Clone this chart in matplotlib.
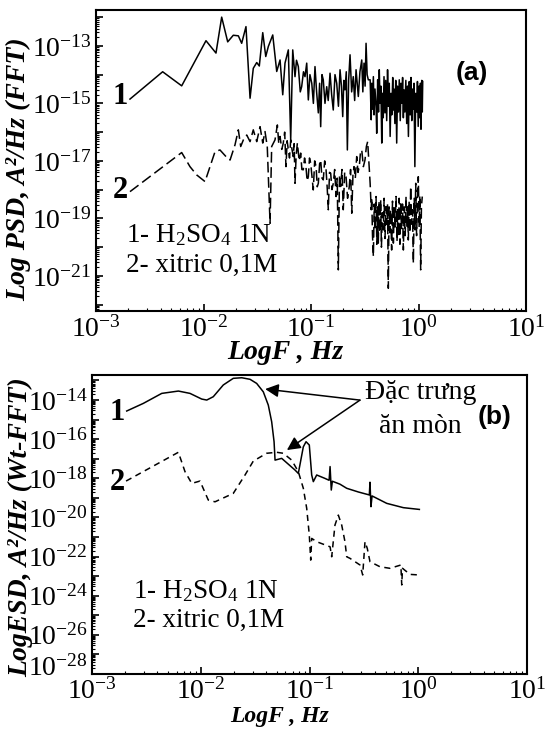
import numpy as np
import matplotlib
matplotlib.use("Agg")
import matplotlib.pyplot as plt
import matplotlib.transforms as mtransforms
from matplotlib.ticker import FixedLocator, FuncFormatter, LogLocator, NullFormatter

plt.rcParams['font.family'] = ['Liberation Serif', 'DejaVu Serif']
plt.rcParams['mathtext.fontset'] = 'custom'
plt.rcParams['mathtext.rm'] = 'Liberation Serif'
plt.rcParams['mathtext.it'] = 'Liberation Serif:italic'
plt.rcParams['mathtext.bf'] = 'Liberation Serif:bold'

# (log10 F [Hz], log10 PSD)
psd_h2so4 = [
    (-2.684, -14.85), (-2.38, -13.9), (-2.203, -14.39), (-1.977, -12.82), (-1.884, -13.25),
    (-1.831, -12.0), (-1.775, -12.86), (-1.723, -12.63), (-1.676, -12.65), (-1.645, -12.91),
    (-1.605, -12.33), (-1.567, -14.82), (-1.537, -13.78), (-1.505, -13.58), (-1.481, -13.7),
    (-1.449, -12.54), (-1.421, -13.37), (-1.397, -13.02), (-1.356, -12.62), (-1.319, -13.89),
    (-1.288, -13.49), (-1.263, -14.7), (-1.242, -13.6), (-1.211, -13.14), (-1.189, -16.27),
    (-1.17, -13.14), (-1.149, -14.07), (-1.135, -13.5), (-1.118, -13.72), (-1.10, -14.6),
    (-1.087, -14.42), (-1.07, -13.9), (-1.056, -14.07), (-1.04, -13.6), (-1.025, -14.88),
    (-1.01, -14.0), (-0.993, -14.3), (-0.978, -15.0), (-0.963, -13.72), (-0.948, -14.6),
    (-0.932, -15.33), (-0.92, -14.3), (-0.91, -15.81), (-0.898, -14.0), (-0.886, -14.18),
    (-0.87, -15.0), (-0.854, -14.42), (-0.84, -14.9), (-0.823, -13.95), (-0.808, -14.7),
    (-0.793, -15.23), (-0.777, -14.0), (-0.761, -14.3), (-0.745, -15.1), (-0.73, -13.83),
    (-0.717, -14.4), (-0.705, -15.46), (-0.695, -14.2), (-0.684, -14.53), (-0.672, -13.9),
    (-0.662, -16.62), (-0.65, -14.2), (-0.637, -13.31), (-0.622, -14.6), (-0.607, -14.07),
    (-0.594, -14.9), (-0.581, -13.83), (-0.57, -14.3), (-0.56, -14.76), (-0.545, -13.9),
    (-0.528, -13.49), (-0.518, -14.6), (-0.507, -13.6), (-0.497, -14.4), (-0.488, -12.91),
    (-0.478, -14.0), (-0.467, -14.18),
    (-0.45, -14.18), (-0.44, -15.57), (-0.435, -14.3), (-0.43, -15.2), (-0.42, -14.07),
    (-0.414, -15.4), (-0.405, -14.5), (-0.395, -15.1), (-0.389, -16.04), (-0.38, -14.18),
    (-0.372, -15.3), (-0.365, -13.83), (-0.358, -15.0), (-0.35, -14.4), (-0.342, -16.38),
    (-0.335, -14.65), (-0.328, -15.5), (-0.321, -14.07), (-0.312, -15.33), (-0.305, -14.2),
    (-0.296, -15.6), (-0.288, -13.83), (-0.28, -15.1), (-0.272, -14.3), (-0.264, -16.15),
    (-0.256, -14.65), (-0.249, -15.4), (-0.24, -14.1), (-0.234, -15.23), (-0.228, -14.5),
    (-0.22, -15.7), (-0.212, -14.2), (-0.203, -16.38), (-0.195, -14.4), (-0.187, -15.3),
    (-0.179, -14.18), (-0.17, -15.6), (-0.163, -14.3), (-0.156, -14.99), (-0.148, -14.1),
    (-0.141, -15.5), (-0.135, -14.53), (-0.127, -15.3), (-0.118, -14.2), (-0.11, -15.7),
    (-0.102, -14.4), (-0.094, -16.15), (-0.086, -14.24), (-0.078, -15.4), (-0.07, -14.1),
    (-0.063, -15.6), (-0.055, -14.5), (-0.048, -15.2), (-0.042, -14.3), (-0.034, -17.2),
    (-0.026, -14.65), (-0.017, -15.3), (-0.01, -14.24), (-0.003, -15.8), (0.005, -14.4),
    (0.012, -15.5), (0.018, -14.3), (0.023, -15.9), (0.03, -14.2), (0.035, -15.3), (0.039, -14.24),
]

psd_xitric = [
    (-2.684, -18.07), (-2.203, -16.71), (-2.126, -17.2), (-2.063, -17.49), (-1.986, -17.72),
    (-1.94, -17.2), (-1.893, -16.68), (-1.847, -16.62), (-1.791, -16.85), (-1.753, -16.97),
    (-1.707, -16.44), (-1.676, -15.92), (-1.654, -16.5), (-1.623, -16.21), (-1.598, -16.1),
    (-1.567, -16.33), (-1.537, -15.92), (-1.505, -16.33), (-1.474, -15.81), (-1.449, -16.38),
    (-1.428, -15.98), (-1.407, -16.5), (-1.381, -19.17), (-1.366, -16.5), (-1.335, -16.27),
    (-1.313, -15.75), (-1.30, -16.4), (-1.288, -16.15), (-1.272, -16.6), (-1.258, -16.38),
    (-1.245, -16.0), (-1.233, -17.2), (-1.222, -16.3), (-1.211, -16.62), (-1.2, -16.9),
    (-1.189, -16.27), (-1.177, -16.6), (-1.165, -16.85), (-1.157, -16.4), (-1.149, -17.78),
    (-1.138, -16.8), (-1.127, -16.38), (-1.11, -17.0), (-1.096, -16.73), (-1.085, -17.3),
    (-1.072, -17.31), (-1.06, -16.9), (-1.047, -17.2), (-1.036, -17.7), (-1.025, -17.55),
    (-1.014, -16.9), (-1.003, -17.08), (-0.99, -17.6), (-0.979, -18.01), (-0.966, -17.0),
    (-0.953, -17.2), (-0.942, -17.9), (-0.932, -17.78), (-0.92, -17.1), (-0.91, -16.97),
    (-0.898, -17.6), (-0.886, -17.66), (-0.873, -17.0), (-0.86, -17.31), (-0.85, -17.9),
    (-0.839, -18.7), (-0.828, -17.4), (-0.817, -17.43), (-0.805, -18.0), (-0.793, -17.78),
    (-0.78, -17.3), (-0.767, -18.24), (-0.756, -17.6), (-0.746, -20.79), (-0.735, -17.5),
    (-0.724, -17.89), (-0.712, -17.3), (-0.7, -18.7), (-0.687, -17.4), (-0.674, -17.55),
    (-0.66, -18.3), (-0.644, -17.89), (-0.632, -17.3), (-0.621, -18.82), (-0.61, -17.5),
    (-0.6, -17.2), (-0.588, -17.6), (-0.575, -16.85), (-0.563, -17.4), (-0.551, -17.2),
    (-0.54, -16.7), (-0.528, -16.62), (-0.513, -17.2), (-0.498, -16.97), (-0.485, -16.5),
    (-0.473, -16.33),
    (-0.45, -17.78), (-0.44, -18.7), (-0.435, -18.3), (-0.428, -19.6), (-0.42, -20.33),
    (-0.412, -18.5), (-0.404, -19.4), (-0.395, -18.24), (-0.388, -19.9), (-0.381, -18.6),
    (-0.374, -19.86), (-0.367, -18.4), (-0.36, -19.5), (-0.352, -18.36), (-0.345, -20.0),
    (-0.337, -18.8), (-0.327, -19.4), (-0.32, -18.3), (-0.312, -19.7), (-0.302, -18.59),
    (-0.295, -19.2), (-0.288, -18.5), (-0.281, -21.43), (-0.274, -18.6), (-0.266, -19.5),
    (-0.259, -18.7), (-0.25, -20.1), (-0.242, -18.4), (-0.234, -19.86), (-0.226, -18.6),
    (-0.218, -19.3), (-0.209, -18.24), (-0.2, -19.8), (-0.194, -18.7), (-0.188, -19.63),
    (-0.18, -18.3), (-0.173, -19.9), (-0.166, -18.47), (-0.158, -19.4), (-0.149, -18.5),
    (-0.141, -20.1), (-0.133, -18.6), (-0.124, -19.6), (-0.116, -18.24), (-0.108, -19.3),
    (-0.101, -18.6), (-0.095, -19.75), (-0.087, -18.4), (-0.08, -19.5), (-0.073, -17.89),
    (-0.065, -19.2), (-0.056, -18.7), (-0.048, -20.56), (-0.04, -18.3), (-0.033, -19.4),
    (-0.026, -17.78), (-0.018, -19.6), (-0.01, -18.4), (-0.002, -17.55), (0.006, -19.3),
    (0.012, -18.2), (0.02, -20.79), (0.027, -18.6), (0.035, -18.24),
]

# (log10 F [Hz], log10 ESD)
esd_h2so4 = [
    (-2.681, -14.56), (-2.528, -14.17), (-2.359, -13.66), (-2.206, -13.54), (-2.099, -13.66),
    (-1.991, -13.95), (-1.945, -14.0), (-1.885, -13.83), (-1.793, -13.23), (-1.701, -12.89),
    (-1.623, -12.86), (-1.547, -12.94), (-1.486, -13.15), (-1.425, -13.58), (-1.379, -14.26),
    (-1.348, -15.11), (-1.326, -16.13), (-1.317, -17.07), (-1.256, -16.98), (-1.133, -17.58),
    (-1.103, -17.75), (-1.057, -16.39), (-1.032, -16.13), (-1.002, -16.3), (-0.98, -17.83),
    (-0.965, -18.17), (-0.934, -17.83), (-0.86, -18.0), (-0.82, -18.1), (-0.811, -17.4),
    (-0.80, -18.6), (-0.79, -18.15), (-0.72, -18.3), (-0.658, -18.51), (-0.55, -18.7),
    (-0.45, -18.85), (-0.444, -18.2), (-0.435, -19.45), (-0.425, -18.9), (-0.29, -19.28),
    (-0.137, -19.5), (0.01, -19.59),
]

esd_xitric = [
    (-2.687, -18.14), (-2.206, -16.67), (-2.145, -17.66), (-2.083, -18.26), (-2.007, -18.14),
    (-1.931, -19.11), (-1.869, -19.2), (-1.701, -18.77), (-1.593, -17.83), (-1.517, -17.12),
    (-1.394, -16.72), (-1.302, -16.67), (-1.241, -16.72), (-1.164, -17.07), (-1.103, -17.66),
    (-1.057, -18.51), (-1.026, -19.53), (-1.002, -20.9), (-0.989, -22.18), (-0.98, -21.07),
    (-0.934, -21.24), (-0.811, -21.5), (-0.796, -22.01), (-0.766, -20.39), (-0.735, -19.88),
    (-0.704, -20.39), (-0.674, -21.24), (-0.658, -22.01), (-0.628, -22.09), (-0.536, -22.43),
    (-0.511, -22.94), (-0.49, -21.24), (-0.469, -21.58), (-0.444, -22.26), (-0.352, -22.52),
    (-0.26, -22.6), (-0.16, -22.43), (-0.152, -23.45), (-0.145, -22.6), (-0.076, -22.91),
    (0.01, -22.94),
]

legend_lines = [r'1- H$_2$SO$_4$ 1N', '2- xitric 0,1M']


def to_lin(pairs):
    a = np.array(pairs)
    return 10 ** a[:, 0], 10 ** a[:, 1]


def style_axis(ax, ymin_exp, ymax_exp, label_exps, xpad):
    ax.set_xscale('log')
    ax.set_yscale('log')
    ax.set_xlim(1e-3, 1e1)
    ax.set_ylim(10.0 ** ymin_exp, 10.0 ** ymax_exp)
    for s in ax.spines.values():
        s.set_linewidth(1.5)
    ax.xaxis.set_major_locator(FixedLocator([1e-3, 1e-2, 1e-1, 1e0, 1e1]))
    ax.xaxis.set_minor_locator(LogLocator(base=10, subs=np.arange(2, 10), numticks=50))
    ax.xaxis.set_minor_formatter(NullFormatter())
    ax.xaxis.set_major_formatter(FuncFormatter(
        lambda v, p: r'$\mathregular{10^{%d}}$' % round(np.log10(v))))
    decades = range(int(np.floor(ymin_exp)), int(np.ceil(ymax_exp)) + 1)
    ax.yaxis.set_major_locator(FixedLocator([10.0 ** k for k in decades]))
    ax.yaxis.set_minor_locator(LogLocator(base=10, subs=np.arange(2, 10), numticks=50))
    ax.yaxis.set_minor_formatter(NullFormatter())
    ax.yaxis.set_major_formatter(FuncFormatter(
        lambda v, p: (r'$\mathregular{10^{%d}}$' % round(np.log10(v)))
        if round(np.log10(v)) in label_exps else ''))
    ax.tick_params(which='both', direction='in', top=False, right=False, labelsize=20)
    ax.tick_params(which='major', length=5, width=1.2, pad=3)
    ax.tick_params(axis='x', which='major', pad=xpad)
    ax.tick_params(which='minor', length=2.5, width=0.8)


fig = plt.figure(figsize=(5.54, 7.31), dpi=100)

# ---- panel (a)
ax1 = fig.add_axes([0.1733, 0.5746, 0.7762, 0.4118])
f, p = to_lin(psd_h2so4)
ax1.plot(f, p, color='k', lw=1.1)
f, p = to_lin(psd_xitric)
ax1.plot(f, p, color='k', lw=1.1, linestyle=(0, (7, 3)))
style_axis(ax1, -22.22, -11.75, [-13, -15, -17, -19, -21], 4)
ax1.set_xlabel('LogF , Hz', fontsize=20, fontweight='bold', style='italic')
ax1.xaxis.set_label_coords(0.44, -0.098)
ax1.xaxis.label.set_va('top')
ax1.set_ylabel('Log PSD, A²/Hz (FFT)', fontsize=20, fontweight='bold', style='italic')
ax1.yaxis.set_label_coords(-0.15, 0.47)
ax1.text(0.056, 0.711, '1', transform=ax1.transAxes, fontsize=22, fontweight='bold',
         ha='center', va='center')
ax1.text(0.056, 0.399, '2', transform=ax1.transAxes, fontsize=22, fontweight='bold',
         ha='center', va='center')
ax1.text(0.07, 0.230, legend_lines[0], transform=ax1.transAxes, fontsize=19.5, va='baseline')
ax1.text(0.07, 0.131, legend_lines[1], transform=ax1.transAxes, fontsize=19.5, va='baseline')
ax1.text(0.874, 0.791, '(a)', transform=ax1.transAxes, fontsize=19, fontweight='bold',
         family='Liberation Sans', ha='center', va='center')

# ---- panel (b)
ax2 = fig.add_axes([0.1661, 0.078, 0.7852, 0.409])
f, p = to_lin(esd_h2so4)
ax2.plot(f, p, color='k', lw=1.1)
f, p = to_lin(esd_xitric)
ax2.plot(f, p, color='k', lw=1.1, linestyle=(0, (4, 3)))
style_axis(ax2, -28, -12.72, [-14, -16, -18, -20, -22, -24, -26, -28], 3)
ax2.set_xlabel('LogF , Hz', fontsize=17, fontweight='bold', style='italic')
ax2.xaxis.set_label_coords(0.432, -0.108)
ax2.xaxis.label.set_va('top')
ax2.set_ylabel('LogESD, A²/Hz (Wt-FFT)', fontsize=20, fontweight='bold', style='italic')
ax2.yaxis.set_label_coords(-0.136, 0.49)
ax2.text(0.057, 0.873, '1', transform=ax2.transAxes, fontsize=22, fontweight='bold',
         ha='center', va='center')
ax2.text(0.057, 0.639, '2', transform=ax2.transAxes, fontsize=22, fontweight='bold',
         ha='center', va='center')
ax2.text(0.094, 0.254, legend_lines[0], transform=ax2.transAxes, fontsize=19.5, va='baseline')
ax2.text(0.094, 0.157, legend_lines[1], transform=ax2.transAxes, fontsize=19.5, va='baseline')
ax2.text(0.926, 0.86, '(b)', transform=ax2.transAxes, fontsize=19, fontweight='bold',
         family='Liberation Sans', ha='center', va='center')
ax2.text(0.756, 0.94, 'Đặc trưng', transform=ax2.transAxes, fontsize=20,
         ha='center', va='center')
ax2.text(0.754, 0.829, 'ăn mòn', transform=ax2.transAxes, fontsize=20,
         ha='center', va='center')
for tip in [(0.398, 0.953), (0.448, 0.749)]:
    ax2.annotate('', xy=tip, xycoords='axes fraction', xytext=(0.616, 0.916),
                 textcoords='axes fraction',
                 arrowprops=dict(arrowstyle='-|>', mutation_scale=20, color='k', lw=1.1,
                                 shrinkA=0, shrinkB=0))

# nudge the lowest y label up a little so it clears the 10^-3 x label at the corner
fig.canvas.draw()
lift = mtransforms.ScaledTranslation(0, 6 / 72, fig.dpi_scale_trans)
for lbl in ax2.get_yticklabels():
    if '-28' in lbl.get_text():
        lbl.set_transform(lbl.get_transform() + lift)

fig.savefig('out.png', dpi=100)
